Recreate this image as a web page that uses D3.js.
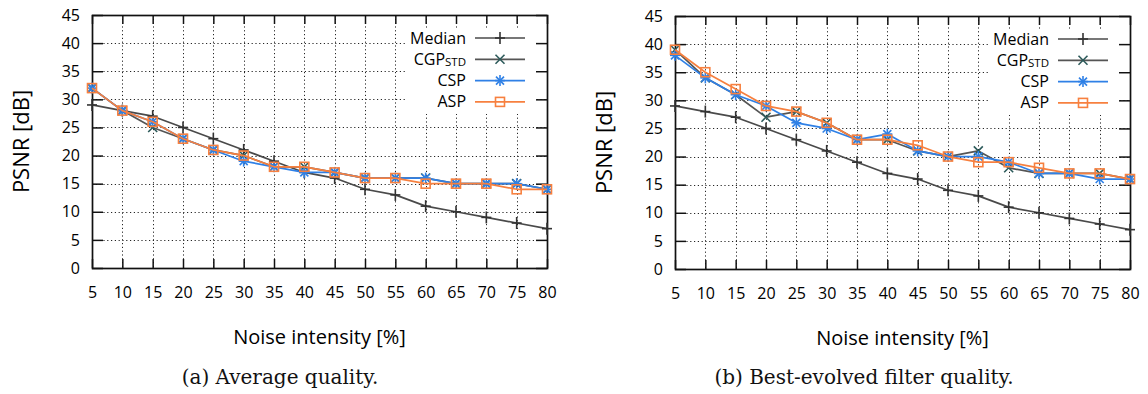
<!DOCTYPE html>
<html>
<head>
<meta charset="utf-8">
<script src="https://cdn.jsdelivr.net/npm/d3@7"></script>
<style>
  html, body { margin: 0; padding: 0; background: #ffffff; }
  svg { display: block; }
</style>
</head>
<body>
<svg id="fig" width="1148" height="394"></svg>
<script>
// Noise intensity levels (x axis) and PSNR ticks (y axis)
const noise = [5, 10, 15, 20, 25, 30, 35, 40, 45, 50, 55, 60, 65, 70, 75, 80];
const psnrTicks = [0, 5, 10, 15, 20, 25, 30, 35, 40, 45];

// Median filter reference (same in both panels)
const medianPsnr = [29, 28, 27, 25, 23, 21, 19, 17, 16, 14, 13, 11, 10, 9, 8, 7];

// (a) Average quality
const avgCgp = [32, 28, 25, 23, 21, 20, 18, 18, 17, 16, 16, 16, 15, 15, 15, 14];
const avgCsp = [32, 28, 26, 23, 21, 19, 18, 17, 17, 16, 16, 16, 15, 15, 15, 14];
const avgAsp = [32, 28, 26, 23, 21, 20, 18, 18, 17, 16, 16, 15, 15, 15, 14, 14];

// (b) Best-evolved filter quality
const bestCgp = [39, 34, 31, 27, 28, 26, 23, 23, 21, 20, 21, 18, 17, 17, 17, 16];
const bestCsp = [38, 34, 31, 29, 26, 25, 23, 24, 21, 20, 20, 19, 17, 17, 16, 16];
const bestAsp = [39, 35, 32, 29, 28, 26, 23, 23, 22, 20, 19, 19, 18, 17, 17, 16];

const captions = ["(a) Average quality.", "(b) Best-evolved filter quality."];

// Series styling
const styles = [
  { name: "Median", sub: "",    line: "#4a4a4a", mark: "#333333", marker: "plus" },
  { name: "CGP",    sub: "STD", line: "#555555", mark: "#2c5a5a", marker: "cross" },
  { name: "CSP",    sub: "",    line: "#2f80e6", mark: "#2f80e6", marker: "star" },
  { name: "ASP",    sub: "",    line: "#f7803f", mark: "#f7803f", marker: "square" }
];

const SANS = "'Open Sans', 'Noto Sans', sans-serif";
const SERIF = "'DejaVu Serif', serif";

const svg = d3.select("#fig");

function drawMarker(g, type, cx, cy, color) {
  const s = g.append("g").attr("transform", `translate(${cx},${cy})`)
    .attr("stroke", color).attr("stroke-width", 1.6).attr("fill", "none");
  if (type === "plus") {
    s.append("line").attr("x1", -5).attr("x2", 5).attr("y1", 0).attr("y2", 0);
    s.append("line").attr("x1", 0).attr("x2", 0).attr("y1", -6).attr("y2", 6);
  } else if (type === "cross") {
    s.append("line").attr("x1", -4.5).attr("x2", 4.5).attr("y1", -4.5).attr("y2", 4.5);
    s.append("line").attr("x1", -4.5).attr("x2", 4.5).attr("y1", 4.5).attr("y2", -4.5);
  } else if (type === "star") {
    s.append("line").attr("x1", -5).attr("x2", 5).attr("y1", 0).attr("y2", 0);
    s.append("line").attr("x1", 0).attr("x2", 0).attr("y1", -5.5).attr("y2", 5.5);
    s.append("line").attr("x1", -4).attr("x2", 4).attr("y1", -4).attr("y2", 4);
    s.append("line").attr("x1", -4).attr("x2", 4).attr("y1", 4).attr("y2", -4);
  } else if (type === "square") {
    s.append("rect").attr("x", -4.5).attr("y", -4.5).attr("width", 9).attr("height", 9);
  }
}

function drawPanel(cfg) {
  const { left, top, width, height, series, caption, capX } = cfg;
  const g = svg.append("g");

  const x = d3.scaleLinear().domain([5, 80]).range([left, left + width]);
  const y = d3.scaleLinear().domain([0, 45]).range([top + height, top]);

  // dotted grid
  const grid = g.append("g").attr("stroke", "#000").attr("stroke-width", 1)
    .attr("stroke-dasharray", "1.2,2.6").attr("opacity", 0.85);
  noise.slice(1, -1).forEach(v => {
    grid.append("line").attr("x1", Math.round(x(v)) + 0.5).attr("x2", Math.round(x(v)) + 0.5)
      .attr("y1", top).attr("y2", top + height);
  });
  psnrTicks.slice(1, -1).forEach(v => {
    grid.append("line").attr("y1", Math.round(y(v)) + 0.5).attr("y2", Math.round(y(v)) + 0.5)
      .attr("x1", left).attr("x2", left + width);
  });

  // opaque key background
  g.append("rect")
    .attr("x", left + width - 141).attr("y", top + 15)
    .attr("width", 131).attr("height", 84)
    .attr("fill", "#ffffff");

  // axes with inward, mirrored ticks
  const axisStyle = sel => {
    sel.select(".domain").remove();
    sel.selectAll(".tick line").attr("stroke", "#111").attr("stroke-width", 1.5);
    sel.selectAll(".tick text").attr("fill", "#000")
      .style("font-family", SANS).style("font-size", "16px");
  };
  g.append("g").attr("transform", `translate(0,${top + height})`)
    .call(d3.axisBottom(x).tickValues(noise).tickSizeInner(-9).tickSizeOuter(0).tickPadding(19))
    .call(axisStyle);
  g.append("g").attr("transform", `translate(0,${top})`)
    .call(d3.axisTop(x).tickValues(noise).tickSizeInner(-9).tickSizeOuter(0).tickFormat(""))
    .call(axisStyle);
  g.append("g").attr("transform", `translate(${left},0)`)
    .call(d3.axisLeft(y).tickValues(psnrTicks).tickSizeInner(-11).tickSizeOuter(0).tickPadding(12))
    .call(axisStyle);
  g.append("g").attr("transform", `translate(${left + width},0)`)
    .call(d3.axisRight(y).tickValues(psnrTicks).tickSizeInner(-11).tickSizeOuter(0).tickFormat(""))
    .call(axisStyle);

  // frame
  g.append("rect").attr("x", left + 0.5).attr("y", top + 0.5)
    .attr("width", width).attr("height", height)
    .attr("fill", "none").attr("stroke", "#111").attr("stroke-width", 1.7);

  // series
  const line = d3.line().x((d, i) => x(noise[i])).y(d => y(d));
  series.forEach((vals, k) => {
    const st = styles[k];
    g.append("path").datum(vals).attr("d", line)
      .attr("fill", "none").attr("stroke", st.line).attr("stroke-width", 1.7)
      .attr("stroke-linejoin", "round");
    vals.forEach((v, i) => drawMarker(g, st.marker, x(noise[i]), y(v), st.mark));
  });

  // key
  const kx1 = left + width - 72, kx2 = left + width - 22, ktx = left + width - 81;
  styles.forEach((st, k) => {
    const ky = top + 23 + k * 21.3;
    g.append("line").attr("x1", kx1).attr("x2", kx2).attr("y1", ky).attr("y2", ky)
      .attr("stroke", st.line).attr("stroke-width", 1.7);
    drawMarker(g, st.marker, (kx1 + kx2) / 2, ky, st.mark);
    const label = g.append("text").attr("x", ktx).attr("y", ky + 5.5)
      .attr("text-anchor", "end").attr("fill", "#000")
      .style("font-family", SANS).style("font-size", "16px");
    if (st.sub) {
      // name with a smaller, lowered subscript in one text element
      label.append("tspan").text(st.name);
      label.append("tspan").attr("dy", 1.5).style("font-size", "11.5px").text(st.sub);
    } else {
      label.text(st.name);
    }
  });

  // axis titles
  g.append("text")
    .attr("transform", `translate(${left - 72},${top + height / 2}) rotate(-90)`)
    .attr("text-anchor", "middle").attr("dominant-baseline", "central")
    .attr("fill", "#000").style("font-family", SANS).style("font-size", "22px")
    .text("PSNR [dB]");
  g.append("text")
    .attr("x", left + width / 2).attr("y", top + height + 68)
    .attr("text-anchor", "middle").attr("dominant-baseline", "central")
    .attr("fill", "#000").style("font-family", SANS).style("font-size", "20px")
    .text("Noise intensity [%]");

  // caption
  g.append("text")
    .attr("x", capX).attr("y", 377)
    .attr("text-anchor", "middle").attr("dominant-baseline", "central")
    .attr("fill", "#111").style("font-family", SERIF).style("font-size", "20px")
    .text(caption);
}

drawPanel({
  left: 92, top: 15, width: 455, height: 253,
  series: [medianPsnr, avgCgp, avgCsp, avgAsp],
  caption: captions[0], capX: 280
});
drawPanel({
  left: 675, top: 16, width: 455, height: 253,
  series: [medianPsnr, bestCgp, bestCsp, bestAsp],
  caption: captions[1], capX: 864
});
</script>
</body>
</html>
